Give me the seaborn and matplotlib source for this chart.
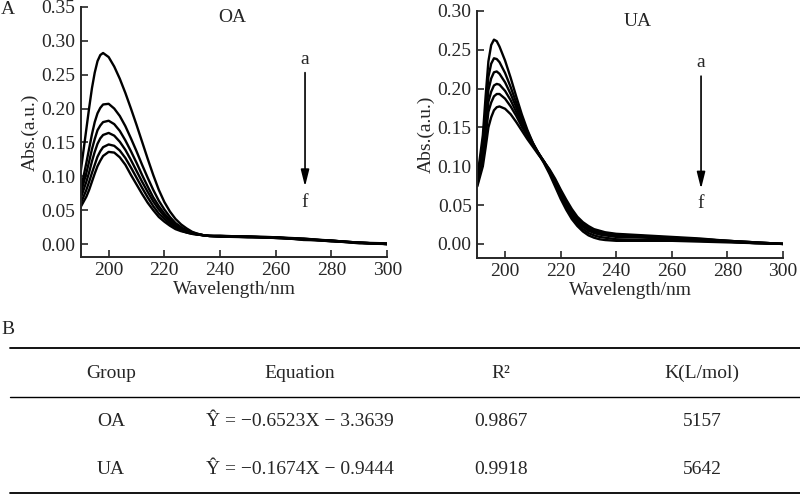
import matplotlib
matplotlib.use("Agg")
import matplotlib.pyplot as plt
from matplotlib.lines import Line2D
import seaborn as sns
import pandas as pd

# ---------------- data ----------------
wavelength = [190, 192, 193, 194, 195, 196, 197, 198,
              200, 202, 204, 206, 208, 210, 212, 214, 216, 218,
              220, 222, 224, 226, 228, 230, 232, 234, 236,
              240, 250, 260, 270, 280, 290, 300]

oa_a = [0.108, 0.170, 0.201, 0.230, 0.253, 0.270, 0.279, 0.282,
        0.276, 0.262, 0.244, 0.223, 0.200, 0.176, 0.151, 0.126, 0.102, 0.080,
        0.062, 0.048, 0.037, 0.029, 0.023, 0.018, 0.015, 0.013, 0.012,
        0.012, 0.011, 0.010, 0.007, 0.005, 0.002, 0.000]
oa_b = [0.080, 0.120, 0.141, 0.162, 0.180, 0.193, 0.201, 0.206,
        0.207, 0.200, 0.189, 0.174, 0.156, 0.137, 0.117, 0.098, 0.080, 0.064,
        0.051, 0.040, 0.031, 0.025, 0.020, 0.017, 0.015, 0.013, 0.012,
        0.012, 0.011, 0.010, 0.008, 0.005, 0.002, 0.000]
oa_c = [0.075, 0.105, 0.122, 0.140, 0.155, 0.168, 0.175, 0.180,
        0.182, 0.177, 0.167, 0.153, 0.137, 0.120, 0.102, 0.085, 0.069, 0.056,
        0.045, 0.036, 0.029, 0.023, 0.019, 0.016, 0.014, 0.013, 0.012,
        0.011, 0.011, 0.009, 0.007, 0.005, 0.002, 0.000]
oa_d = [0.068, 0.092, 0.106, 0.122, 0.136, 0.148, 0.156, 0.161,
        0.164, 0.160, 0.151, 0.139, 0.124, 0.108, 0.092, 0.077, 0.063, 0.051,
        0.041, 0.033, 0.027, 0.022, 0.018, 0.016, 0.014, 0.013, 0.012,
        0.012, 0.010, 0.009, 0.008, 0.004, 0.002, 0.001]
oa_e = [0.060, 0.080, 0.092, 0.105, 0.117, 0.129, 0.137, 0.143,
        0.147, 0.145, 0.138, 0.127, 0.113, 0.098, 0.083, 0.069, 0.056, 0.045,
        0.037, 0.030, 0.025, 0.020, 0.017, 0.015, 0.014, 0.013, 0.012,
        0.011, 0.010, 0.010, 0.006, 0.005, 0.001, 0.000]
oa_f = [0.055, 0.070, 0.080, 0.092, 0.104, 0.115, 0.123, 0.130,
        0.136, 0.135, 0.128, 0.117, 0.102, 0.088, 0.074, 0.061, 0.050, 0.040,
        0.033, 0.027, 0.022, 0.019, 0.017, 0.015, 0.014, 0.013, 0.012,
        0.011, 0.011, 0.009, 0.007, 0.004, 0.002, 0.000]

ua_a = [0.085, 0.140, 0.190, 0.235, 0.256, 0.263, 0.261, 0.254,
        0.236, 0.214, 0.190, 0.167, 0.147, 0.130, 0.116, 0.104, 0.090, 0.074,
        0.058, 0.044, 0.032, 0.023, 0.016, 0.011, 0.008, 0.006, 0.005,
        0.004, 0.004, 0.004, 0.003, 0.002, 0.001, 0.000]
ua_b = [0.082, 0.130, 0.172, 0.215, 0.232, 0.239, 0.238, 0.234,
        0.220, 0.202, 0.182, 0.162, 0.145, 0.130, 0.117, 0.105, 0.092, 0.077,
        0.061, 0.047, 0.035, 0.026, 0.019, 0.014, 0.011, 0.009, 0.008,
        0.006, 0.005, 0.005, 0.004, 0.003, 0.001, 0.000]
ua_c = [0.080, 0.122, 0.160, 0.198, 0.213, 0.221, 0.222, 0.219,
        0.208, 0.193, 0.176, 0.158, 0.143, 0.129, 0.117, 0.106, 0.093, 0.079,
        0.064, 0.050, 0.038, 0.029, 0.022, 0.017, 0.014, 0.012, 0.011,
        0.009, 0.008, 0.007, 0.005, 0.003, 0.001, 0.000]
ua_d = [0.078, 0.115, 0.148, 0.183, 0.196, 0.204, 0.206, 0.205,
        0.197, 0.185, 0.170, 0.155, 0.141, 0.128, 0.117, 0.106, 0.094, 0.080,
        0.066, 0.052, 0.040, 0.031, 0.024, 0.019, 0.016, 0.014, 0.013,
        0.011, 0.009, 0.008, 0.006, 0.004, 0.002, 0.000]
ua_e = [0.076, 0.108, 0.138, 0.170, 0.182, 0.190, 0.193, 0.193,
        0.187, 0.177, 0.165, 0.151, 0.139, 0.127, 0.116, 0.106, 0.095, 0.082,
        0.068, 0.054, 0.042, 0.033, 0.026, 0.021, 0.018, 0.016, 0.014,
        0.012, 0.010, 0.008, 0.006, 0.004, 0.002, 0.000]
ua_f = [0.074, 0.100, 0.124, 0.150, 0.163, 0.172, 0.176, 0.177,
        0.174, 0.167, 0.157, 0.146, 0.135, 0.125, 0.115, 0.106, 0.096, 0.084,
        0.070, 0.057, 0.045, 0.035, 0.028, 0.023, 0.019, 0.017, 0.015,
        0.013, 0.011, 0.009, 0.007, 0.004, 0.002, 0.000]

curve_names = ["a", "b", "c", "d", "e", "f"]
oa_curves = [oa_a, oa_b, oa_c, oa_d, oa_e, oa_f]
ua_curves = [ua_a, ua_b, ua_c, ua_d, ua_e, ua_f]

table_header = ["Group", "Equation", "R²", "K(L/mol)"]
table_groups = ["OA", "UA"]
table_equations = ["Ŷ = −0.6523X − 3.3639", "Ŷ = −0.1674X − 0.9444"]
table_r2 = ["0.9867", "0.9918"]
table_k = ["5157", "5642"]

oa_yticks = [0.00, 0.05, 0.10, 0.15, 0.20, 0.25, 0.30, 0.35]
ua_yticks = [0.00, 0.05, 0.10, 0.15, 0.20, 0.25, 0.30]
xticks = [200, 220, 240, 260, 280, 300]


def to_long(curves):
    rows = []
    for name, vals in zip(curve_names, curves):
        for w, v in zip(wavelength, vals):
            rows.append({"wl": w, "abs": v, "curve": name})
    return pd.DataFrame(rows)


df_oa = to_long(oa_curves)
df_ua = to_long(ua_curves)

# ---------------- style ----------------
sns.set_style("ticks")
plt.rcParams["font.family"] = ["Liberation Serif", "DejaVu Serif"]
plt.rcParams["axes.linewidth"] = 1.4
plt.rcParams["xtick.direction"] = "in"
plt.rcParams["ytick.direction"] = "in"

fig = plt.figure(figsize=(8, 4.95), dpi=100)
ax1 = fig.add_axes([0.101, 0.481, 0.383, 0.505])
ax2 = fig.add_axes([0.5966, 0.479, 0.3822, 0.499])


def style_ax(ax, df, yticks, ylim, title, title_pos, a_pos, arrow_top, arrow_bot, f_pos):
    sns.lineplot(data=df, x="wl", y="abs", units="curve", estimator=None,
                 color="black", linewidth=1.7, ax=ax, legend=False)
    ax.set_xlim(190, 300)
    ax.set_ylim(*ylim)
    ax.set_xticks(xticks)
    ax.set_yticks(yticks)
    ax.set_yticklabels([f"{t:.2f}" for t in yticks])
    ax.tick_params(axis="both", labelsize=14, length=5, width=1.2, pad=4)
    ax.set_xlabel("Wavelength/nm", fontsize=14, labelpad=1)
    ax.set_ylabel("Abs.(a.u.)", fontsize=14, labelpad=2)
    sns.despine(ax=ax)
    ax.text(title_pos[0], title_pos[1], title, fontsize=14, ha="center", va="center")
    ax.text(a_pos[0], a_pos[1], "a", fontsize=14, ha="center", va="center")
    ax.text(f_pos[0], f_pos[1], "f", fontsize=14, ha="center", va="center")
    ax.annotate("", xy=(arrow_bot[0], arrow_bot[1]), xytext=(arrow_top[0], arrow_top[1]),
                arrowprops=dict(arrowstyle="-|>,head_length=1.0,head_width=0.25",
                                color="black", lw=1.2, shrinkA=0, shrinkB=0))


style_ax(ax1, df_oa, oa_yticks, (-0.019, 0.35), "OA", (244.5, 0.334),
         (270.3, 0.272), (270.5, 0.253), (270.5, 0.085), (270.3, 0.062))
style_ax(ax2, df_ua, ua_yticks, (-0.018, 0.30), "UA", (247.8, 0.286),
         (270.5, 0.233), (270.5, 0.216), (270.5, 0.071), (270.5, 0.052))

fig.text(8 / 800, 1 - 9 / 495, "A", fontsize=14, ha="center", va="center")
fig.text(8 / 800, 1 - 330 / 495, "B", fontsize=14, ha="center", va="center")

# ---------------- table ----------------
def hline(ypx, lw):
    fig.add_artist(Line2D([10 / 800, 1.0], [1 - ypx / 495, 1 - ypx / 495],
                          transform=fig.transFigure, color="black", linewidth=lw))


hline(347.5, 1.3)
hline(397, 1.0)
hline(493, 1.3)

col_x = [111 / 800, 300 / 800, 501 / 800, 702 / 800]
header_y = 1 - 373 / 495
row_y = [1 - 422 / 495, 1 - 469 / 495]
for cx, h in zip(col_x, table_header):
    fig.text(cx, header_y, h, fontsize=14, ha="center", va="center")
for i in range(len(table_groups)):
    vals = [table_groups[i], table_equations[i], table_r2[i], table_k[i]]
    for cx, v in zip(col_x, vals):
        fig.text(cx, row_y[i], v, fontsize=14, ha="center", va="center")

fig.savefig("out.png", dpi=100)
